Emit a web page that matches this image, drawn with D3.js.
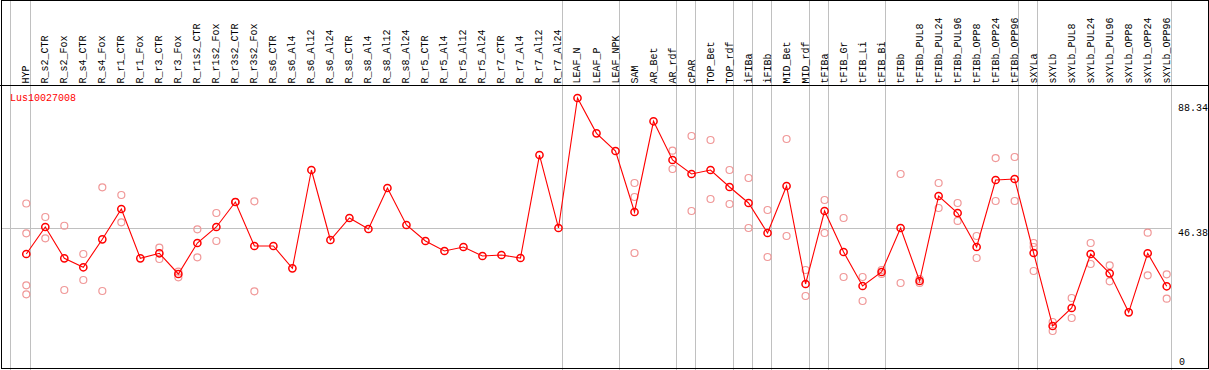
<!DOCTYPE html>
<html><head><meta charset="utf-8">
<script src="https://cdn.jsdelivr.net/npm/d3@7/dist/d3.min.js"></script>
<style>body{margin:0;background:#fff}svg{display:block}text{font-family:"Liberation Mono",monospace;font-size:10px}</style>
</head><body><div id="chart"></div>
<script>
const categories = ["HYP","R_s2_CTR","R_s2_Fox","R_s4_CTR","R_s4_Fox","R_r1_CTR","R_r1_Fox","R_r3_CTR","R_r3_Fox","R_r1s2_CTR","R_r1s2_Fox","R_r3s2_CTR","R_r3s2_Fox","R_s6_CTR","R_s6_Al4","R_s6_Al12","R_s6_Al24","R_s8_CTR","R_s8_Al4","R_s8_Al12","R_s8_Al24","R_r5_CTR","R_r5_Al4","R_r5_Al12","R_r5_Al24","R_r7_CTR","R_r7_Al4","R_r7_Al12","R_r7_Al24","LEAF_N","LEAF_P","LEAF_NPK","SAM","AR_Bet","AR_rdf","cPAR","TOP_Bet","TOP_rdf","iFIBa","iFIBb","MID_Bet","MID_rdf","tFIBa","tFIB_Gr","tFIB_Li","tFIB_Bi","tFIBb","tFIBb_PUL8","tFIBb_PUL24","tFIBb_PUL96","tFIBb_OPP8","tFIBb_OPP24","tFIBb_OPP96","sXYLa","sXYLb","sXYLb_PUL8","sXYLb_PUL24","sXYLb_PUL96","sXYLb_OPP8","sXYLb_OPP24","sXYLb_OPP96"];
// last category of each group (a separator line follows it)
const groupEnds = ["HYP","R_r7_Al24","LEAF_NPK","AR_rdf","cPAR","TOP_rdf","iFIBa","iFIBb","MID_rdf","tFIBa","tFIB_Bi","tFIBb_OPP96","sXYLa","sXYLb_OPP96"];
const meanValues = [38.10,46.80,36.71,33.82,42.83,52.59,36.71,38.33,31.66,41.64,46.80,54.85,40.68,40.68,33.49,65.15,42.61,49.69,46.15,59.36,47.44,42.29,39.07,40.35,37.46,37.78,36.81,69.97,46.48,88.34,76.97,71.27,51.63,80.84,68.37,63.86,65.15,59.68,54.53,44.86,60.00,28.44,51.95,38.74,27.79,32.30,46.48,29.40,56.78,51.30,40.35,61.93,62.25,38.42,14.91,20.71,38.10,31.88,19.32,38.33,27.70];
const replicateValues = [[54.36,44.77,28.02,25.12],[50.02,43.16],[47.20,26.51],[38.10,29.73],[59.58,26.18],[57.10,48.31],[],[40.13,36.49],[32.40,30.60],[46.05,37.04],[51.30,42.29],[54.85,54.85],[55.07,26.09],[],[],[],[],[],[],[],[],[],[],[],[],[],[],[],[],[],[],[],[60.97,56.46,38.42],[],[71.37,65.48],[76.10,51.95],[74.81,55.81],[65.15,54.20],[62.58,46.48],[52.27,37.13],[75.13,43.90],[32.95,24.57],[55.49,44.86],[49.69,30.69],[30.69,22.96],[32.95,31.66],[63.86,28.76],[30.04,28.76],[60.97,52.92],[54.53,48.74],[43.90,36.81],[69.00,55.17],[69.34,55.17],[41.64,40.35,32.62],[13.30,16.20],[23.93,17.49],[41.64,34.88],[34.46,29.31],[],[44.96,31.24],[31.56,23.70]];
const yTickValues = [88.34, 46.38, 0];
const geneLabel = "Lus10027008";

const W = 1209, H = 370;
const svg = d3.select("#chart").append("svg").attr("width", W).attr("height", H);
const x = d3.scalePoint().domain(categories).range([26.3, 1166.7]);
const y = d3.scaleLinear().domain([0, 88.34]).range([372.3, 98]);
const plotLeft = 10, plotRight = 1171, headerY = 85;

// vertical separators
svg.append("line").attr("x1", plotLeft + 0.5).attr("x2", plotLeft + 0.5).attr("y1", 0).attr("y2", H)
  .attr("stroke", "#c0c0c0");
svg.selectAll("line.sep").data(groupEnds).join("line").attr("class", "sep")
  .attr("x1", d => Math.round(x(d) + 3.8) + 0.5).attr("x2", d => Math.round(x(d) + 3.8) + 0.5)
  .attr("y1", 0).attr("y2", H).attr("stroke", "#c0c0c0");
// horizontal gridline at middle tick
svg.append("line").attr("x1", 1).attr("x2", plotRight).attr("y1", Math.round(y(46.38)) + 0.5).attr("y2", Math.round(y(46.38)) + 0.5)
  .attr("stroke", "#c0c0c0");
// header line and frame
svg.append("line").attr("x1", 0).attr("x2", W).attr("y1", headerY + 0.5).attr("y2", headerY + 0.5).attr("stroke", "#000");
svg.append("rect").attr("x", 1.5).attr("y", 0.5).attr("width", 1207).attr("height", 368).attr("fill", "none").attr("stroke", "#000");

// category labels
svg.selectAll("text.cat").data(categories).join("text").attr("class", "cat")
  .attr("transform", d => `translate(${x(d) + 3},83.5) rotate(-90)`)
  .attr("text-anchor", "start").attr("fill", "#000").text(d => d);

// gene label
svg.append("text").attr("x", 10).attr("y", 101).attr("fill", "red").text(geneLabel);

// y tick labels
svg.selectAll("text.yt").data(yTickValues).join("text").attr("class", "yt")
  .attr("x", d => d === 0 ? 1179 : 1208).attr("text-anchor", d => d === 0 ? "start" : "end")
  .attr("y", d => d === 0 ? 365 : y(d) + (d === 88.34 ? 12.5 : 8.2)).attr("fill", "#000").text(d => d);

// replicates
const reps = [];
categories.forEach((c, i) => replicateValues[i].forEach(v => reps.push({c, v})));
svg.selectAll("circle.rep").data(reps).join("circle").attr("class", "rep")
  .attr("cx", d => x(d.c)).attr("cy", d => y(d.v)).attr("r", 3.5)
  .attr("fill", "none").attr("stroke", "#f09898").attr("stroke-width", 1.2);

// mean line and points
const means = categories.map((c, i) => ({c, v: meanValues[i]}));
svg.append("path").datum(means).attr("fill", "none").attr("stroke", "red").attr("stroke-width", 1.1)
  .attr("d", d3.line().x(d => x(d.c)).y(d => y(d.v)));
svg.selectAll("circle.mean").data(means).join("circle").attr("class", "mean")
  .attr("cx", d => x(d.c)).attr("cy", d => y(d.v)).attr("r", 3.6)
  .attr("fill", "none").attr("stroke", "red").attr("stroke-width", 1.5);
</script></body></html>
